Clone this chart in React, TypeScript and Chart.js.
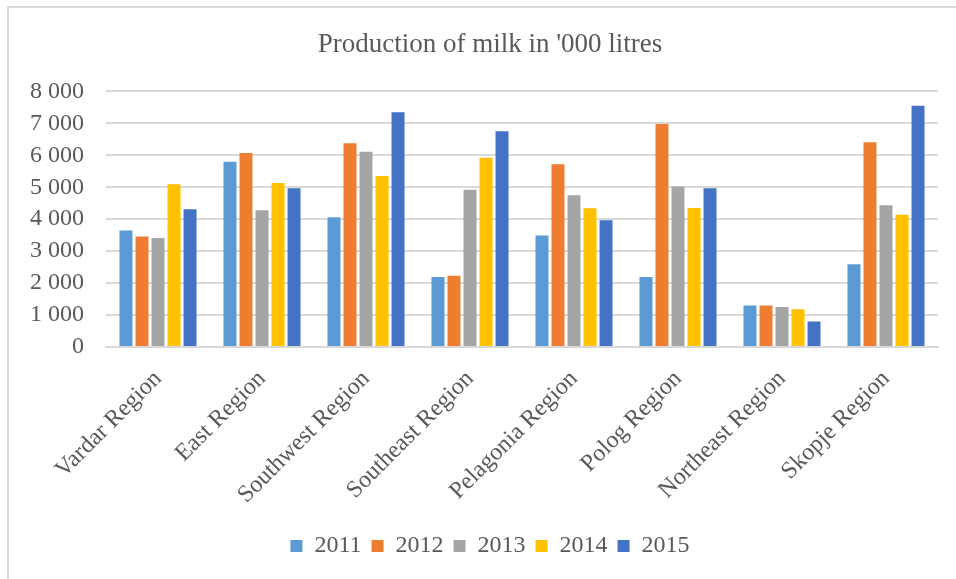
import React, { useEffect, useRef } from "react";
import { Chart, registerables } from "chart.js";

Chart.register(...registerables);

const regions = [
  "Vardar Region",
  "East Region",
  "Southwest Region",
  "Southeast Region",
  "Pelagonia Region",
  "Polog Region",
  "Northeast Region",
  "Skopje Region",
];

const years = ["2011", "2012", "2013", "2014", "2015"];

const milk2011 = [3650, 5800, 4060, 2190, 3490, 2190, 1300, 2590];
const milk2012 = [3460, 6070, 6380, 2230, 5720, 6980, 1300, 6410];
const milk2013 = [3410, 4280, 6110, 4920, 4750, 5020, 1250, 4440];
const milk2014 = [5090, 5130, 5350, 5920, 4340, 4350, 1180, 4140];
const milk2015 = [4310, 4970, 7350, 6750, 3970, 4970, 800, 7550];

const seriesColors = ["#5B9BD5", "#ED7D31", "#A5A5A5", "#FFC000", "#4472C4"];

const yMax = 8000;
const yStep = 1000;

const textColor = "#595959";
const gridColor = "#d9d9d9";
const fontFamily = "'Liberation Serif', 'Times New Roman', serif";

// "8000" -> "8 000"
const formatThousands = (v: number) =>
  String(v).replace(/\B(?=(\d{3})+(?!\d))/g, " ");

// Title and legend sit centred on the whole frame rather than on the
// area left of the right padding, so nudge both blocks sideways.
const centreShift = {
  id: "centreShift",
  afterLayout(chart: any) {
    const dx = 21;
    for (const box of [chart.titleBlock, chart.legend]) {
      if (box) {
        box.left += dx;
        box.right += dx;
      }
    }
  },
};

export default function App() {
  const canvasRef = useRef<HTMLCanvasElement | null>(null);

  useEffect(() => {
    if (!canvasRef.current) return;
    const series = [milk2011, milk2012, milk2013, milk2014, milk2015];
    const chart = new Chart(canvasRef.current, {
      type: "bar",
      data: {
        labels: regions,
        datasets: series.map((values, i) => ({
          label: years[i],
          data: values,
          backgroundColor: seriesColors[i],
          borderWidth: 0,
          barPercentage: 0.81,
          categoryPercentage: 0.77,
        })),
      },
      options: {
        animation: false,
        responsive: false,
        maintainAspectRatio: false,
        layout: { padding: { left: 0, right: 18, top: 0, bottom: 11 } },
        plugins: {
          title: {
            display: true,
            text: "Production of milk in '000 litres",
            color: textColor,
            font: { family: fontFamily, size: 27, weight: "normal" },
            padding: { top: 29, bottom: 30 },
          },
          legend: {
            display: true,
            position: "bottom",
            labels: {
              color: textColor,
              font: { family: fontFamily, size: 24 },
              boxWidth: 12,
              boxHeight: 12,
              padding: 10,
            },
          },
          tooltip: { enabled: false },
        },
        scales: {
          x: {
            grid: { display: false, drawTicks: false },
            border: { display: true, color: gridColor, width: 2 },
            ticks: {
              color: textColor,
              font: { family: fontFamily, size: 24 },
              minRotation: 45,
              maxRotation: 45,
              padding: 18,
            },
            afterFit: (scale: any) => {
              scale.height = 177;
            },
          },
          y: {
            min: 0,
            max: yMax,
            grid: { color: gridColor, lineWidth: 2, drawTicks: false },
            border: { display: false },
            ticks: {
              stepSize: yStep,
              color: textColor,
              font: { family: fontFamily, size: 24 },
              padding: 22,
              callback: (v: any) => formatThousands(Number(v)),
            },
            afterFit: (scale: any) => {
              scale.width = 106;
            },
          },
        },
      },
      plugins: [centreShift],
    });
    return () => chart.destroy();
  }, []);

  return (
    <div style={{ position: "absolute", left: 0, top: 0, width: 956, height: 579, background: "#fff" }}>
      <div
        style={{
          position: "absolute",
          left: 7,
          top: 6,
          width: 956,
          height: 579,
          borderLeft: "2px solid #d9d9d9",
          borderTop: "2px solid #d9d9d9",
        }}
      />
      <canvas
        ref={canvasRef}
        width={956}
        height={579}
        style={{ position: "absolute", left: 0, top: 0, width: 956, height: 579 }}
      />
    </div>
  );
}
